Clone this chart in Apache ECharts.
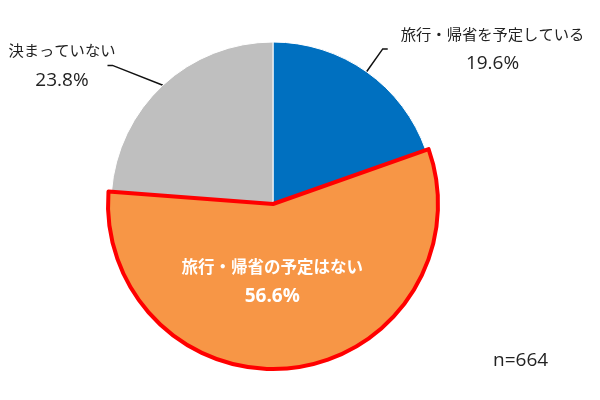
<!DOCTYPE html>
<html>
<head>
<meta charset="utf-8">
<script src="https://cdn.jsdelivr.net/npm/echarts@6/dist/echarts.min.js"></script>
<style>html,body{margin:0;padding:0;background:#fff;}#c{width:600px;height:400px;}</style>
</head>
<body>
<div id="c"></div>
<script>
var categories = ['旅行・帰省を予定している', '旅行・帰省の予定はない', '決まっていない'];
var values = [19.6, 56.6, 23.8];
var colors = ['#0070C0', '#F79646', '#BFBFBF'];
var sampleNote = 'n=664';

var FONT = '"Noto Sans CJK JP", "Noto Sans", sans-serif';
var NUMFONT = '"Open Sans", "Noto Sans", sans-serif';
var chart = echarts.init(document.getElementById('c'), null, {renderer: 'canvas'});

function richLabel(fs, nfs, color, weight) {
  return {
    a: {fontSize: fs, color: color, fontWeight: weight, fontFamily: FONT, align: 'center', lineHeight: 30},
    b: {fontSize: nfs, color: color, fontWeight: weight, fontFamily: NUMFONT, align: 'center', lineHeight: 30}
  };
}
function fmt(p) { return '{a|' + p.name + '}\n{b|' + p.value.toFixed(1) + '%}'; }

var baseData = categories.map(function (name, i) {
  var item = {name: name, value: values[i], itemStyle: {color: colors[i], borderColor: '#fff', borderWidth: 1}};
  if (i === 0) {
    item.label = {show: true, position: 'outside', distanceToLabelLine: 13};
    item.labelLine = {show: true, length: 28, length2: 5};
  } else if (i === 2) {
    item.label = {show: true, position: 'outside', distanceToLabelLine: -8};
    item.labelLine = {show: true, length: 27, length2: 37};
  } else {
    item.label = {show: false};
    item.labelLine = {show: false};
  }
  return item;
});

var topData = categories.map(function (name, i) {
  if (i === 1) {
    return {
      name: name, value: values[i],
      itemStyle: {color: colors[i], borderColor: '#FF0000', borderWidth: 4},
      label: {show: true, position: 'inside', offset: [-12, -7],
        formatter: fmt, rich: richLabel(16.5, 19, '#ffffff', 'bold')}
    };
  }
  return {name: name, value: values[i], itemStyle: {color: 'rgba(0,0,0,0)', borderWidth: 0}, label: {show: false}, labelLine: {show: false}, emphasis: {disabled: true}};
});

chart.setOption({
  animation: false,
  title: {
    text: sampleNote, left: 488, top: 346,
    textStyle: {fontSize: 19, fontWeight: 'normal', color: '#222', fontFamily: NUMFONT}
  },
  series: [
    {
      type: 'pie', center: [273, 204], radius: [0, 162], startAngle: 90, clockwise: true,
      avoidLabelOverlap: false, silent: true,
      label: {formatter: fmt, rich: richLabel(15.3, 19, '#222222', 'normal')},
      labelLine: {lineStyle: {color: '#111', width: 1.5}},
      labelLayout: function (params) {
        if (params.dataIndex === 2 && params.labelLinePoints) {
          var pts = params.labelLinePoints;
          var end = pts[2];
          return {labelLinePoints: [pts[0], [end[0] + 5, end[1]], end]};
        }
        return {};
      },
      data: baseData
    },
    {
      type: 'pie', center: [273, 204], radius: [0, 165], startAngle: 90, clockwise: true,
      avoidLabelOverlap: false, silent: true,
      data: topData
    }
  ]
});
</script>
</body>
</html>
